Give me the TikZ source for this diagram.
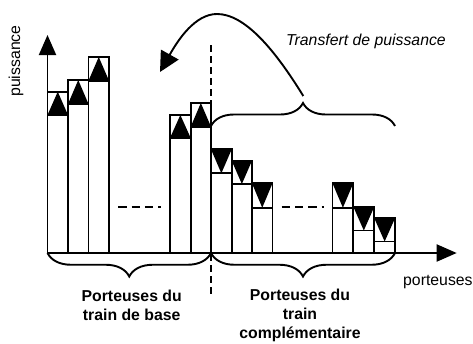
\documentclass[tikz,border=0pt]{standalone}
\usepackage{fontspec}
\setmainfont{Liberation Sans}
\usetikzlibrary{arrows.meta,decorations.pathreplacing}
\begin{document}
\begin{tikzpicture}[x=1pt,y=-1pt,
  barline/.style={draw=black,line width=1.9pt},
  trifill/.style={fill=black},
  axisline/.style={line width=1.9pt,-{Triangle[length=20pt,width=17pt]}},
  brc/.style={decorate,line width=1.9pt},
  lbl/.style={font=\fontsize{15.8}{18.7}\selectfont,inner sep=0pt},
  blbl/.style={font=\fontsize{15.8}{18.7}\selectfont\bfseries,inner sep=0pt,align=center},
  ilbl/.style={font=\fontsize{15.8}{18.7}\selectfont\itshape,inner sep=0pt},
  dashh/.style={line width=1.8pt,dash pattern=on 8.3pt off 5pt},
  dashv/.style={line width=1.8pt,dash pattern=on 7pt off 4pt}]
\useasboundingbox (0,0) rectangle (473,343);
% axes
\coordinate (O) at (47.5,253);
\coordinate (ytip) at (47.5,35);
\coordinate (xtip) at (456.7,253);
% up bars: x1/x2/top/inner
\foreach \a/\b/\t/\i in {47.5/68/91.7/115, 68/88.5/80/104, 88.5/109/57/80.7, 170/190.7/115/138, 190.7/211/103/126.7}{
  \fill[trifill] (\a,\i) -- (\b,\i) -- ({(\a+\b)/2},\t) -- cycle;
  \draw[barline] (\a,253) rectangle (\b,\t);
  \draw[barline] (\a,\i) -- (\b,\i);
}
% down bars
\foreach \a/\b/\t/\i in {211/231.7/149.3/173.3, 231.7/252/160.7/184, 252/272.5/183.3/207.7, 332.5/353.3/183.3/207.7, 353.3/374.3/206.7/230.5, 374.3/395/218.3/241.5}{
  \fill[trifill] (\a,\t) -- (\b,\t) -- ({(\a+\b)/2},\i) -- cycle;
  \draw[barline] (\a,253) rectangle (\b,\t);
  \draw[barline] (\a,\i) -- (\b,\i);
}
\draw[axisline] (O) -- (ytip);
\draw[axisline] (O) -- (xtip);
% dashed lines
\coordinate (dv1) at (210.7,45);
\coordinate (dv2) at (210.7,297);
\draw[dashv] (dv1) -- (dv2);
\coordinate (dl1) at (118.3,206.7);
\coordinate (dl2) at (160.7,206.7);
\draw[dashh] (dl1) -- (dl2);
\coordinate (dr1) at (281.7,206.7);
\coordinate (dr2) at (324,206.7);
\draw[dashh] (dr1) -- (dr2);
% braces
\coordinate (bt1) at (211,126);
\coordinate (bt2) at (395,126);
\draw[brc,decoration={brace,amplitude=23pt}] (bt1) -- (bt2);
\coordinate (bl1) at (47.5,253);
\coordinate (bl2) at (211,253);
\draw[brc,decoration={brace,mirror,amplitude=23.5pt}] (bl1) -- (bl2);
\coordinate (br1) at (211,253);
\coordinate (br2) at (395,253);
\draw[brc,decoration={brace,mirror,amplitude=23.5pt}] (br1) -- (br2);
% curved arrow
\coordinate (cs) at (303.3,96);
\coordinate (cp) at (217,14);
\coordinate (ce) at (160,72);
\draw[line width=1.9pt,-{Triangle[length=20pt,width=20pt]}] (cs) .. controls (275,50) and (245,14) .. (cp) .. controls (195,14) and (178,40) .. (ce);
% labels
\node[lbl,rotate=90] (ylab) at (16,61) {puissance};
\node[ilbl,anchor=west] (tr) at (286,41.7) {Transfert de puissance};
\node[lbl,anchor=west] (xlab) at (403,281.7) {porteuses};
\node[blbl] (b1) at (131.7,305.2) {Porteuses du\\train de base};
\node[blbl] (b2) at (300,315.3) {Porteuses du\\train\\complémentaire};
\end{tikzpicture}
\end{document}
